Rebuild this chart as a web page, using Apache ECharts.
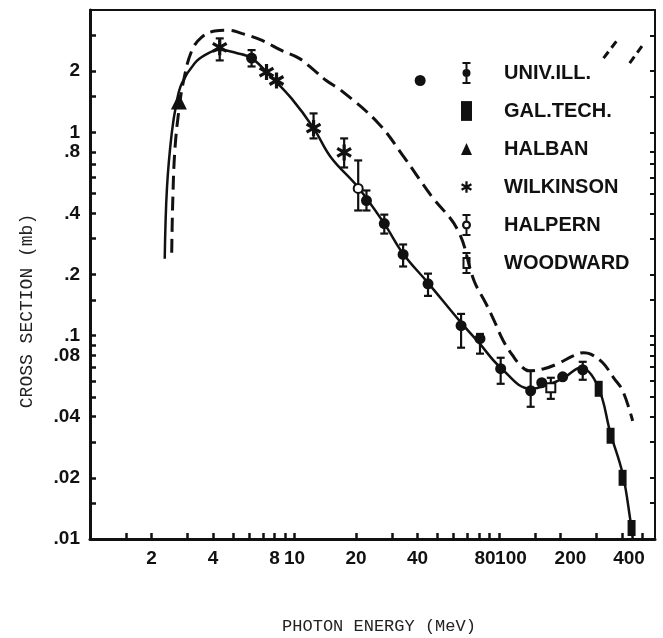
<!DOCTYPE html>
<html><head><meta charset="utf-8">
<script src="https://cdn.jsdelivr.net/npm/echarts@6/dist/echarts.min.js"></script>
<style>html,body{margin:0;padding:0;background:#fff}#c{width:663px;height:638px}</style>
</head><body><div id="c"></div>
<script>
// ---- axis ranges and ticks ----
const X_MIN = 1, X_MAX = 580, Y_MIN = 0.01, Y_MAX = 4;
const xTickValues = [1.5,2,3,4,5,6,7,8,9,10,20,30,40,50,60,70,80,90,100,150,200,300,400,500];
const xLabelValues = [2,4,8,10,20,40,80,100,200,400];
const xLabelText = ['2','4','8','10','20','40','80','100','200','400'];
const yTickValues = [0.015,0.02,0.03,0.04,0.05,0.06,0.07,0.08,0.09,0.1,0.15,0.2,0.3,0.4,0.5,0.6,0.7,0.8,1,1.5,2,3];
const yLabelValues = [2,1,0.8,0.4,0.2,0.1,0.08,0.04,0.02,0.01];
const yLabelText = ['2','1','.8','.4','.2','.1','.08','.04','.02','.01'];

// ---- curves (photon energy MeV, cross section mb) ----
const solidCurve = [[2.32,0.239],[2.38,0.536],[2.51,0.99],[2.65,1.40],[2.81,1.74],[3.25,2.19],[3.7,2.42],[4.3,2.55],[5.2,2.46],[6.17,2.32],[7.55,1.91],[9.67,1.47],[12.4,1.05],[15.1,0.753],[20.5,0.536],[27.5,0.356],[34.0,0.253],[45.0,0.182],[65.3,0.116],[79.8,0.0924],[102,0.0696],[143,0.0548],[179,0.058],[208,0.0621],[251,0.0696],[304,0.0567],[352,0.0329],[403,0.0209],[440,0.01227],[451,0.0101]];
const dashedCurve = [[2.51,0.256],[2.54,0.462],[2.60,0.815],[2.72,1.28],[2.87,1.80],[3.15,2.53],[3.52,2.94],[4.07,3.15],[4.77,3.18],[5.51,3.07],[6.90,2.84],[8.64,2.53],[10.5,2.32],[12.5,2.02],[14.3,1.80],[16.9,1.61],[25.7,1.11],[34.4,0.753],[46.6,0.489],[63.1,0.329],[75.5,0.187],[86.4,0.144],[94.6,0.119],[105,0.0945],[117,0.0797],[128,0.0712],[140,0.0672],[166,0.0688],[194,0.0728],[232,0.0797],[260,0.0825],[281,0.0812],[322,0.0736],[364,0.0621],[403,0.0536],[451,0.0381]];
const fragmentA = [[325,2.32],[376,2.81]];
const fragmentB = [[436,2.19],[504,2.68]];

// ---- measurements [energy, value, errLow, errHigh] ----
const univIll = [[6.17,2.32,2.11,2.54],[22.5,0.462,0.413,0.518],[27.5,0.356,0.318,0.394],[34.0,0.251,0.219,0.281],[45.0,0.180,0.157,0.202],[65.3,0.112,0.0873,0.128],[80.8,0.0967,0.0816,0.102],[102,0.0688,0.0580,0.0779],[143,0.0536,0.0447,0.0672],[162,0.0587,null,null],[205,0.0628,null,null],[257,0.0680,0.0607,0.0744],[41.2,1.80,null,null]];
const calTech = [[307.6,0.0548],[351.7,0.0322],[402.6,0.0200],[445.5,0.01133]];
const halban = [[2.72,1.42]];
const wilkinson = [[4.31,2.62,2.26,2.90],[7.30,1.98,null,null],[8.17,1.80,null,null],[12.4,1.05,0.934,1.24],[17.5,0.797,0.672,0.934]];
const halpern = [[20.5,0.530,0.413,0.728]];
const woodward = [[179.4,0.0554,0.0489,0.0621]];

// ---- symbols ----
const CAPS = 'M-4,-11L4,-11L4,-9L-4,-9Z M-4,9L4,9L4,11L-4,11Z ';
const ICON_UNIV = 'path://' + CAPS + 'M-1,-11L1,-11L1,11L-1,11Z M-4,0A4,4 0 1,1 4,0A4,4 0 1,1 -4,0Z';
const ICON_HALPERN = 'path://' + CAPS + 'M-1,-11L1,-11L1,-4L-1,-4Z M-1,4L1,4L1,11L-1,11Z M-4.5,0A4.5,4.5 0 1,1 4.5,0A4.5,4.5 0 1,1 -4.5,0Z M-2.3,0A2.3,2.3 0 1,0 2.3,0A2.3,2.3 0 1,0 -2.3,0Z';
const ICON_WOOD = 'path://' + CAPS + 'M-1,-11L1,-11L1,-5L-1,-5Z M-1,5L1,5L1,11L-1,11Z M-4,-6L4,-6L4,6L-4,6Z M-2,-4L-2,4L2,4L2,-4Z';
const ICON_RECT = 'path://M-5,-9L5,-9L5,9L-5,9Z';
const ICON_TRI = 'path://M0,-6L5.5,6L-5.5,6Z';
const STAR = 'path://M2,-10L-2,-10L-2,10L2,10Z M7.66,6.73L9.66,3.27L-7.66,-6.73L-9.66,-3.27Z M-9.66,3.27L-7.66,6.73L9.66,-3.27L7.66,-6.73Z';

const INK = '#111';
const lg = v => Math.log10(v);
function nearest(arr, v) {
  let bi = 0, bd = Infinity;
  arr.forEach((a, i) => { const d = Math.abs(lg(a) - v); if (d < bd) { bd = d; bi = i; } });
  return bi;
}
const xShift = {'80':'p12','100':'p24','200':'p20','400':'p14'};
const labelFont = {fontFamily:'Liberation Sans', fontWeight:'bold', fontSize:19, color:INK};

const errData = [].concat(univIll, wilkinson, halpern, woodward)
  .filter(d => d[2] != null).map(d => [d[0], d[2], d[3]]);

const chart = echarts.init(document.getElementById('c'), null, {renderer:'canvas'});
chart.setOption({
  animation: false,
  backgroundColor: '#fff',
  grid: {left: 90, right: 8, top: 10, bottom: 99, outerBoundsMode: 'none'},
  xAxis: [
    {type:'log', logBase:10, min:X_MIN, max:X_MAX, show:false},
    {type:'value', position:'bottom', min:0, max:lg(X_MAX),
      axisLine:{show:true, onZero:false, lineStyle:{color:INK, width:3}},
      axisTick:{show:true, inside:true, length:6, customValues:xTickValues.map(lg), lineStyle:{color:INK, width:2.5}},
      axisLabel:Object.assign({show:true, margin:10, customValues:xLabelValues.map(lg),
        formatter: v => { const t = xLabelText[nearest(xLabelValues, v)]; return xShift[t] ? '{' + xShift[t] + '|' + t + '}' : t; },
        rich:{
          p12:Object.assign({padding:[0,0,0,12]}, labelFont),
          p14:Object.assign({padding:[0,0,0,14]}, labelFont),
          p20:Object.assign({padding:[0,0,0,20]}, labelFont),
          p24:Object.assign({padding:[0,0,0,24]}, labelFont)
        }}, labelFont),
      splitLine:{show:false}},
    {type:'value', position:'top', min:0, max:lg(X_MAX),
      axisLine:{show:true, onZero:false, lineStyle:{color:INK, width:2}},
      axisTick:{show:false}, axisLabel:{show:false}, splitLine:{show:false}}
  ],
  yAxis: [
    {type:'log', logBase:10, min:Y_MIN, max:Y_MAX, show:false},
    {type:'value', position:'left', min:lg(Y_MIN), max:lg(Y_MAX),
      axisLine:{show:true, onZero:false, lineStyle:{color:INK, width:3}},
      axisTick:{show:true, inside:true, length:6, customValues:yTickValues.map(lg), lineStyle:{color:INK, width:2.5}},
      axisLabel:Object.assign({show:true, margin:10, customValues:yLabelValues.map(lg),
        formatter: v => yLabelText[nearest(yLabelValues, v)]}, labelFont),
      splitLine:{show:false}},
    {type:'value', position:'right', min:lg(Y_MIN), max:lg(Y_MAX),
      axisLine:{show:true, onZero:false, lineStyle:{color:INK, width:2}},
      axisTick:{show:true, inside:true, length:5, customValues:yTickValues.map(lg), lineStyle:{color:INK, width:2}},
      axisLabel:{show:false}, splitLine:{show:false}}
  ],
  legend: {
    orient:'vertical', left:456, top:57, itemWidth:11, itemHeight:22, itemGap:16,
    selectedMode:false,
    itemStyle:{opacity:1},
    textStyle:{fontFamily:'Liberation Sans', fontWeight:'bold', fontSize:20, color:INK, padding:[0,0,0,27], lineHeight:22},
    data:[
      {name:'UNIV.ILL.', icon:ICON_UNIV},
      {name:'GAL.TECH.', icon:ICON_RECT},
      {name:'HALBAN', icon:ICON_TRI},
      {name:'WILKINSON', icon:STAR},
      {name:'HALPERN', icon:ICON_HALPERN},
      {name:'WOODWARD', icon:ICON_WOOD}
    ]
  },
  graphic: [
    {type:'text', x:27, y:311, rotation:Math.PI/2,
      style:{text:'CROSS SECTION (mb)', fontFamily:'Liberation Mono', fontSize:18, fill:'#222', align:'center', verticalAlign:'middle'}},
    {type:'text', x:379, y:626,
      style:{text:'PHOTON ENERGY (MeV)', fontFamily:'Liberation Mono', fontSize:17, fill:'#222', align:'center', verticalAlign:'middle'}}
  ],
  series: [
    {name:'fit', type:'line', data:solidCurve, smooth:0.4, showSymbol:false, symbol:'none',
      lineStyle:{color:INK, width:2.5}, z:2},
    {name:'upper', type:'line', data:dashedCurve, smooth:0.4, showSymbol:false, symbol:'none',
      lineStyle:{color:INK, width:3, type:[14,7]}, z:2},
    {name:'fragA', type:'line', data:fragmentA, showSymbol:false, symbol:'none', lineStyle:{color:INK, width:3, type:[8,5]}, z:2},
    {name:'fragB', type:'line', data:fragmentB, showSymbol:false, symbol:'none', lineStyle:{color:INK, width:3, type:[8,5]}, z:2},
    {name:'errors', type:'custom', data:errData, encode:{x:0, y:[1,2]}, z:3,
      renderItem:(params, api) => {
        const p1 = api.coord([api.value(0), api.value(1)]);
        const p2 = api.coord([api.value(0), api.value(2)]);
        const w = 4, st = {stroke:INK, lineWidth:2.2};
        return {type:'group', children:[
          {type:'line', shape:{x1:p1[0], y1:p1[1], x2:p2[0], y2:p2[1]}, style:st},
          {type:'line', shape:{x1:p1[0]-w, y1:p1[1], x2:p1[0]+w, y2:p1[1]}, style:st},
          {type:'line', shape:{x1:p2[0]-w, y1:p2[1], x2:p2[0]+w, y2:p2[1]}, style:st}
        ]};
      }},
    {name:'UNIV.ILL.', type:'scatter', data:univIll.map(d => [d[0], d[1]]), symbol:'circle', symbolSize:11, symbolKeepAspect:true, itemStyle:{color:INK, opacity:1}, z:4},
    {name:'GAL.TECH.', type:'scatter', data:calTech, symbol:'rect', symbolSize:[8,16], symbolKeepAspect:true, itemStyle:{color:INK, opacity:1}, z:4},
    {name:'HALBAN', type:'scatter', data:halban, symbol:'triangle', symbolSize:16, symbolKeepAspect:true, itemStyle:{color:INK, opacity:1}, z:4},
    {name:'WILKINSON', type:'scatter', data:wilkinson.map(d => [d[0], d[1]]), symbol:STAR, symbolSize:16, symbolKeepAspect:true, itemStyle:{color:INK, opacity:1}, z:4},
    {name:'HALPERN', type:'scatter', data:halpern.map(d => [d[0], d[1]]), symbol:'emptyCircle', symbolSize:9, symbolKeepAspect:true, itemStyle:{color:INK, borderWidth:2, opacity:1}, z:4},
    {name:'WOODWARD', type:'scatter', data:woodward.map(d => [d[0], d[1]]), symbol:'emptyRect', symbolSize:9, symbolKeepAspect:true, itemStyle:{color:INK, borderWidth:2, opacity:1}, z:4}
  ]
});
</script></body></html>
